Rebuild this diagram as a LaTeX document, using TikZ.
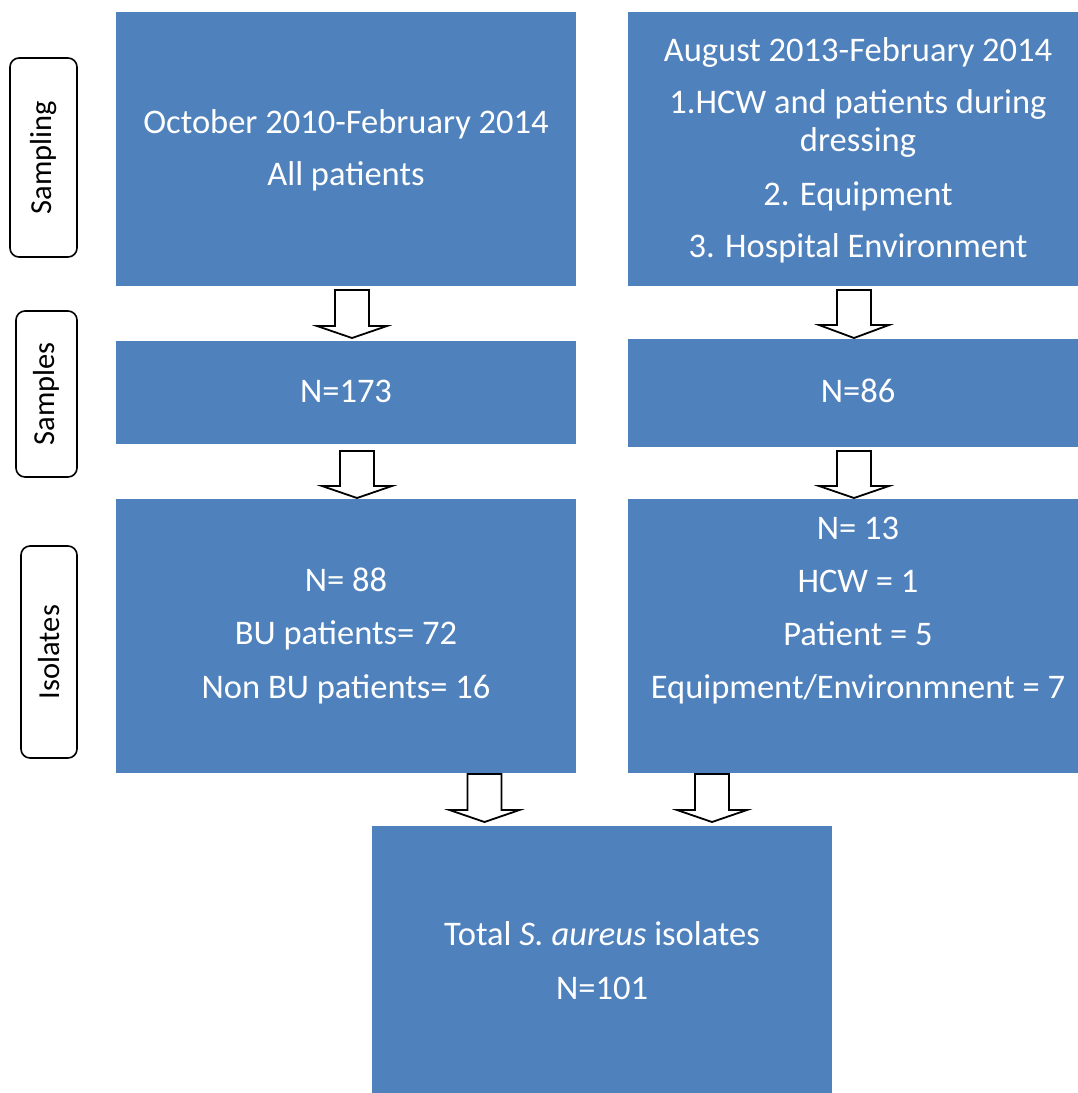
\documentclass[tikz,border=0pt]{standalone}
\usepackage{fontspec}
\setmainfont{Carlito}
\definecolor{boxblue}{HTML}{4F81BD}
\newcommand\blockarr[4]{% cx, top, base, tip
  \draw[arr] (#1-17,-#2) -- (#1+17,-#2) -- (#1+17,-#3) -- (#1+35,-#3) -- (#1,-#4) -- (#1-35,-#3) -- (#1-17,-#3) -- cycle;}
\begin{document}
\begin{tikzpicture}[x=1pt,y=1pt,
  box/.style={fill=boxblue,draw=none,inner sep=0pt},
  txt/.style={text=white,font=\fontsize{34.5}{38}\selectfont,anchor=base,inner sep=0pt},
  side/.style={draw=black,line width=1.6pt,rounded corners=9pt,inner sep=0pt},
  sidetxt/.style={font=\fontsize{30.5}{34}\selectfont,rotate=90,inner sep=0pt},
  arr/.style={draw=black,line width=1.8pt,fill=white,line join=miter}]
\useasboundingbox (0,0) rectangle (1078,-1093);
% boxes
\path[box] (116,-12) rectangle (576,-286) node[midway] (A) {};
\path[box] (628,-12) rectangle (1078,-286) node[midway] (B) {};
\path[box] (116,-341) rectangle (576,-444) node[midway] (C) {};
\path[box] (628,-339) rectangle (1078,-447) node[midway] (D) {};
\path[box] (116,-499) rectangle (576,-773) node[midway] (E) {};
\path[box] (628,-499) rectangle (1078,-773) node[midway] (F) {};
\path[box] (372,-826) rectangle (832,-1093) node[midway] (G) {};
% texts
\node[txt] (a1) at (346,-133) {October 2010-February 2014};
\node[txt] (a2) at (346,-185) {All patients};
\node[txt] (b1) at (858,-61) {August 2013-February 2014};
\node[txt] (b2) at (858,-113) {1.HCW and patients during};
\node[txt] (b3) at (858,-151) {dressing};
\node[txt] (b4) at (858,-205) {2. Equipment};
\node[txt] (b5) at (858,-257) {3. Hospital Environment};
\node[txt] (c1) at (346,-402) {N=173};
\node[txt] (d1) at (858,-402) {N=86};
\node[txt] (e1) at (346,-591) {N= 88};
\node[txt] (e2) at (346,-644) {BU patients= 72};
\node[txt] (e3) at (346,-698) {Non BU patients= 16};
\node[txt] (f1) at (858,-539) {N= 13};
\node[txt] (f2) at (858,-592) {HCW = 1};
\node[txt] (f3) at (858,-645) {Patient = 5};
\node[txt] (f4) at (858,-698) {Equipment/Environmnent = 7};
\node[txt] (g1) at (602,-945) {Total \textit{S. aureus} isolates};
\node[txt] (g2) at (602,-999) {N=101};
% side labels
\draw[side] (10,-58) rectangle (77,-257);
\node[sidetxt] (s1) at (43.5,-157.5) {Sampling};
\draw[side] (16,-311) rectangle (77,-477);
\node[sidetxt] (s2) at (46.5,-394) {Samples};
\draw[side] (21,-546) rectangle (77,-758);
\node[sidetxt] (s3) at (49,-652) {Isolates};
% block arrows
\blockarr{352}{290}{326}{338}
\blockarr{854}{290}{325}{338}
\blockarr{357}{451}{486}{498}
\blockarr{854}{451}{486}{498}
\blockarr{484.5}{774}{810}{822}
\blockarr{712}{774}{810}{822}
\end{tikzpicture}
\end{document}
